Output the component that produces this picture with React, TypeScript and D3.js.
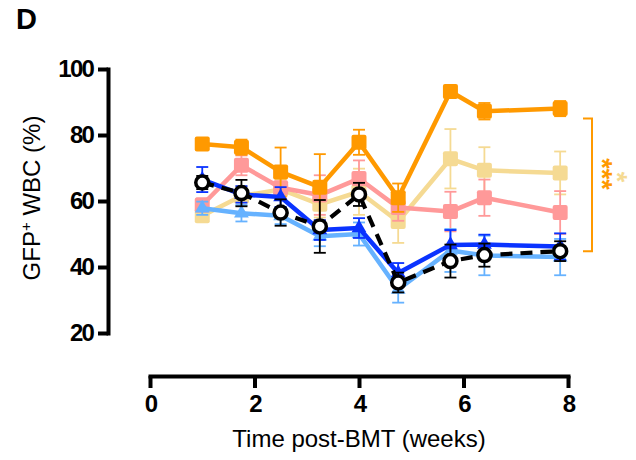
import { useEffect, useRef } from "react";
import { scaleLinear, line, select, axisLeft, axisBottom, symbol, symbolTriangle } from "d3";

const width = 636;
const height = 460;
const font = "'Liberation Sans', Arial, sans-serif";

// time points (weeks post-BMT)
const weeks = [1, 1.75, 2.5, 3.25, 4, 4.75, 5.75, 6.4, 7.85];

const orangeMean = [77.3, 76.3, 68.8, 64.2, 77.8, 61, 93.2, 87.2, 88];
const orangeErr = [1, 2.3, 7.4, 10, 3.8, 4.3, 1, 2.5, 2.3];

const pinkMean = [58.8, 70.8, 64, 61.8, 66.8, 58, 56.8, 61, 56.5];
const pinkErr = [2, 3, 3, 6, 5.5, 4, 6, 5.5, 6.5];

const beigeMean = [55.5, 61.5, 63.5, 59, 62.8, 53.8, 72.8, 69.3, 68.5];
const beigeErr = [1.5, 3, 3, 4, 7, 6.5, 9, 7, 6.5];

const darkBlueMean = [66.5, 62, 61.2, 51.2, 51.8, 38.2, 46.7, 46.8, 46.2];
const darkBlueErr = [3.8, 2.5, 3, 3, 3, 3, 4.5, 3, 4];

const lightBlueMean = [57.8, 56.3, 55.5, 49.3, 50, 33.2, 45, 43.5, 43];
const lightBlueErr = [2, 2.5, 2.5, 3, 3.5, 4, 6.5, 6, 5.5];

const blackMean = [65.6, 62.4, 56.5, 52.3, 62, 35.3, 41.8, 43.6, 44.8];
const blackErr = [2, 4, 4, 8, 3.5, 3, 5, 3.5, 3];

const xTicks = [0, 2, 4, 6, 8];
const yTicks = [20, 40, 60, 80, 100];

// significance bracket (in data units)
const bracketTop = 85;
const bracketBottom = 44.8;

const x = scaleLinear().domain([0, 8]).range([150, 568]);
const y = scaleLinear().domain([20, 100]).range([333, 69]);

const series = [
  { name: "beige", mean: beigeMean, err: beigeErr, color: "#F5DA93", shape: "square", dash: null },
  { name: "pink", mean: pinkMean, err: pinkErr, color: "#FF9999", shape: "square", dash: null },
  { name: "orange", mean: orangeMean, err: orangeErr, color: "#FF9900", shape: "square", dash: null },
  { name: "lightblue", mean: lightBlueMean, err: lightBlueErr, color: "#66B2FF", shape: "triangle", dash: null },
  { name: "darkblue", mean: darkBlueMean, err: darkBlueErr, color: "#0A33FF", shape: "triangle", dash: null },
  { name: "black", mean: blackMean, err: blackErr, color: "#000000", shape: "circle", dash: "12,8" },
];

const pathLine = line<number>()
  .x((_, i) => x(weeks[i]))
  .y((d) => y(d));

const tri = symbol().type(symbolTriangle).size(95)();

const App = () => {
  const yRef = useRef<SVGGElement>(null);
  const xRef = useRef<SVGGElement>(null);

  useEffect(() => {
    const ya = select(yRef.current!);
    ya.call(axisLeft(y).tickValues(yTicks).tickSize(10).tickSizeOuter(0).tickPadding(5));
    const xa = select(xRef.current!);
    xa.call(axisBottom(x).tickValues(xTicks).tickSize(12).tickSizeOuter(0).tickPadding(7));
    [ya, xa].forEach((a) => {
      a.attr("font-size", null).attr("font-family", null);
      a.select(".domain").attr("stroke-width", 4).attr("stroke-linecap", "square").attr("stroke", "#000");
      a.selectAll(".tick line").attr("stroke-width", 4).attr("stroke", "#000");
      a.selectAll(".tick text")
        .attr("font-family", font)
        .attr("font-size", 24)
        .attr("font-weight", "bold")
        .attr("letter-spacing", "-1.8px")
        .attr("fill", "#000");
    });
  }, []);

  return (
    <svg width={width} height={height} style={{ position: "absolute", left: 0, top: 0, background: "#fff" }}>
      <text x={16} y={29} fontFamily={font} fontSize={29} fontWeight="bold">D</text>

      <g ref={yRef} transform="translate(108,0)" />
      <g ref={xRef} transform="translate(0,376)" />

      <text
        transform="translate(40,198) rotate(-90)"
        textAnchor="middle"
        fontFamily={font}
        fontSize={24}
      >
        GFP<tspan dy={-9} fontSize={15}>+</tspan>
        <tspan dy={9}> WBC (%)</tspan>
      </text>
      <text x={359} y={447} textAnchor="middle" fontFamily={font} fontSize={24}>
        Time post-BMT (weeks)
      </text>

      {series.map((s) => (
        <g key={s.name}>
          {s.mean.map((m, i) => {
            const cx = x(weeks[i]);
            const top = y(m + s.err[i]);
            const bot = y(m - s.err[i]);
            return (
              <g key={i} stroke={s.color} strokeWidth={1.8}>
                <line x1={cx} x2={cx} y1={top} y2={bot} />
                <line x1={cx - 6} x2={cx + 6} y1={top} y2={top} />
                <line x1={cx - 6} x2={cx + 6} y1={bot} y2={bot} />
              </g>
            );
          })}
          <path
            d={pathLine(s.mean) ?? ""}
            fill="none"
            stroke={s.color}
            strokeWidth={s.dash ? 4.2 : 4.5}
            strokeDasharray={s.dash ?? undefined}
            strokeLinejoin="round"
          />
          {s.mean.map((m, i) => {
            const cx = x(weeks[i]);
            const cy = y(m);
            if (s.shape === "square")
              return <rect key={i} x={cx - 7.5} y={cy - 7.5} width={15} height={15} rx={2} fill={s.color} />;
            if (s.shape === "triangle")
              return <path key={i} d={tri ?? ""} transform={`translate(${cx},${cy})`} fill={s.color} />;
            return <circle key={i} cx={cx} cy={cy} r={6.5} fill="#fff" stroke="#000" strokeWidth={3.5} />;
          })}
        </g>
      ))}

      <path
        d={`M583,${y(bracketTop)}H592V${y(bracketBottom)}H583`}
        fill="none"
        stroke="#FF9900"
        strokeWidth={2}
      />
      <text
        transform="translate(593,174) rotate(90)"
        textAnchor="middle"
        fontFamily={font}
        fontSize={27}
        fontWeight="bold"
        fill="#FF9900"
      >
        ***
      </text>
      <text
        transform="translate(608,177) rotate(90)"
        textAnchor="middle"
        fontFamily={font}
        fontSize={27}
        fontWeight="bold"
        fill="#F5DA93"
      >
        *
      </text>
    </svg>
  );
};

export default App;
